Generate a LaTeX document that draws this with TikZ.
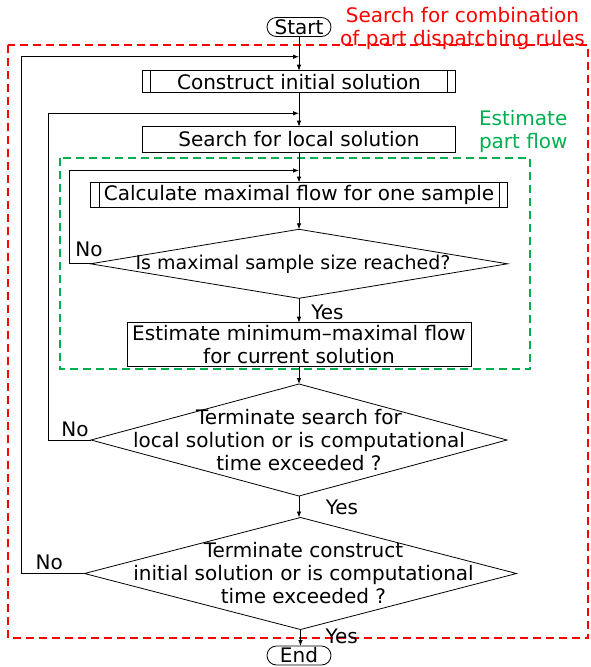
\documentclass[tikz,border=0pt]{standalone}
\usepackage{fontspec}
\setmainfont{DejaVu Sans}
\usetikzlibrary{shapes.geometric,arrows.meta}
\definecolor{myred}{RGB}{255,0,0}
\definecolor{mygreen}{RGB}{0,176,80}
\begin{document}
\begin{tikzpicture}[x=1pt,y=-1pt,
  every node/.style={font=\fontsize{20}{23}\selectfont, inner sep=0pt, outer sep=0pt},
  box/.style={draw, line width=0.8pt, rectangle},
  term/.style={draw, line width=0.8pt, rectangle, rounded corners=9.5pt, minimum width=64pt, minimum height=19pt},
  dec/.style={draw, line width=0.8pt, diamond},
  arr/.style={line width=0.8pt, -{Latex[length=6pt,width=4.5pt]}},
  reddash/.style={draw=myred, line width=2pt, dash pattern=on 8pt off 5pt},
  greendash/.style={draw=mygreen, line width=2pt, dash pattern=on 8pt off 5pt},
  lbl/.style={font=\fontsize{20}{23}\selectfont}
]
\useasboundingbox (0,0) rectangle (590,667);

% group frames
\draw[reddash] (8,45) rectangle (588,638.3);
\draw[greendash] (59.5,158.3) rectangle (530,369.3);

\node[text=myred, align=center] (redlbl) at (462.5,28) {Search for combination\\of part dispatching rules};
\node[text=mygreen, align=left, anchor=west] (greenlbl) at (479,131.5) {Estimate\\part flow};

% nodes
\node[term] (start) at (299,27) {Start};
\node[box, minimum width=313.5pt, minimum height=22pt] (construct) at (299,81.7) {Construct initial solution};
\node[box, minimum width=313.5pt, minimum height=25.3pt] (search) at (299,139.3) {Search for local solution};
\node[box, minimum width=417pt, minimum height=24.5pt] (calc) at (299,194.8) {Calculate maximal flow for one sample};
\node[dec, minimum width=417pt, minimum height=69pt,
  label={[xshift=-6pt, font=\fontsize{19}{23}\selectfont]center:Is maximal sample size reached?}] (d1) at (299,263.8) {};
\node[box, minimum width=344pt, minimum height=44pt, align=center] (est) at (299,344.7) {Estimate minimum\textendash maximal flow\\for current solution};
\node[dec, minimum width=416pt, minimum height=112pt,
  label={[align=center]center:Terminate search for\\local solution or is computational\\time exceeded ?}] (d2) at (299,440) {};
\node[dec, minimum width=432pt, minimum height=112pt,
  label={[align=center, xshift=3pt]center:Terminate construct\\initial solution or is computational\\time exceeded ?}] (d3) at (300.5,573.5) {};
\node[term] (end) at (299,655.5) {End};

% predefined-process bars
\foreach \n in {construct,calc}{
  \draw[line width=0.8pt] ([xshift=8.5pt]\n.north west) -- ([xshift=8.5pt]\n.south west);
  \draw[line width=0.8pt] ([xshift=-8.5pt]\n.north east) -- ([xshift=-8.5pt]\n.south east);
}

% junction points on main axis
\coordinate (j1) at (299,56.7);
\coordinate (j2) at (299,113.3);
\coordinate (j3) at (299,170.5);

% main flow
\draw[arr] (start) -- (construct);
\draw[arr] (construct) -- (search);
\draw[arr] (search) -- (calc);
\draw[arr] (calc) -- (d1);
\draw[arr] (d1) -- (est);
\draw[arr] (est) -- (d2.north);
\draw[arr] (d2.south) -- (d2.south |- d3.north);
\draw[arr] (d3.south) -- (d3.south |- end.north);

% loops
\draw[arr] (d1.west) -- ++(-21.5,0) |- (j3);
\draw[arr] (d2.west) -- ++(-43,0) |- (j2);
\draw[arr] (d3.west) -- ++(-63.5,0) |- (j1);

% labels
\node[lbl] (yes1) at (327.5,312.7) {Yes};
\node[lbl] (yes2) at (342,507.7) {Yes};
\node[lbl] (yes3) at (341.7,636.7) {Yes};
\node[lbl] (no1) at (89,249) {No};
\node[lbl] (no2) at (75,429.3) {No};
\node[lbl] (no3) at (49.3,562.7) {No};
\end{tikzpicture}
\end{document}
